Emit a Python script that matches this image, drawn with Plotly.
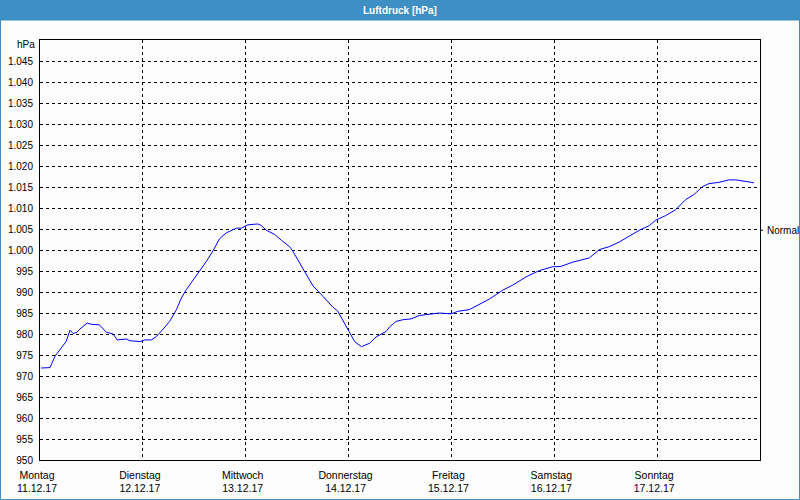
import plotly.graph_objects as go

# ---- data ----
times = [
    "2017-12-11 00:15", "2017-12-11 02:20", "2017-12-11 03:30", "2017-12-11 05:05", "2017-12-11 06:05",
    "2017-12-11 07:00", "2017-12-11 07:45", "2017-12-11 08:35", "2017-12-11 09:20", "2017-12-11 11:00",
    "2017-12-11 12:05", "2017-12-11 13:50", "2017-12-11 14:45", "2017-12-11 15:30", "2017-12-11 17:05",
    "2017-12-11 18:00", "2017-12-11 20:10", "2017-12-11 21:00", "2017-12-11 23:20", "2017-12-12 00:30",
    "2017-12-12 02:00", "2017-12-12 03:10", "2017-12-12 04:45", "2017-12-12 06:15", "2017-12-12 07:50",
    "2017-12-12 09:00", "2017-12-12 10:10", "2017-12-12 13:15", "2017-12-12 14:50", "2017-12-12 16:25",
    "2017-12-12 17:55", "2017-12-12 19:30", "2017-12-12 21:00", "2017-12-12 21:50", "2017-12-12 23:00",
    "2017-12-13 00:30", "2017-12-13 02:50", "2017-12-13 03:40", "2017-12-13 04:50", "2017-12-13 06:45",
    "2017-12-13 08:20", "2017-12-13 10:15", "2017-12-13 11:00", "2017-12-13 12:35", "2017-12-13 14:10",
    "2017-12-13 15:40", "2017-12-13 18:00", "2017-12-13 20:20", "2017-12-13 21:30", "2017-12-13 23:05",
    "2017-12-14 00:15", "2017-12-14 01:25", "2017-12-14 03:00", "2017-12-14 04:55", "2017-12-14 06:25",
    "2017-12-14 08:45", "2017-12-14 09:35", "2017-12-14 11:05", "2017-12-14 12:40", "2017-12-14 14:35",
    "2017-12-14 16:30", "2017-12-14 18:50", "2017-12-14 21:10", "2017-12-14 23:55", "2017-12-15 01:30",
    "2017-12-15 04:10", "2017-12-15 06:30", "2017-12-15 08:50", "2017-12-15 11:55", "2017-12-15 14:15",
    "2017-12-15 17:25", "2017-12-15 20:30", "2017-12-15 23:35", "2017-12-16 01:35", "2017-12-16 04:15",
    "2017-12-16 05:50", "2017-12-16 08:10", "2017-12-16 10:30", "2017-12-16 12:50", "2017-12-16 15:10",
    "2017-12-16 17:30", "2017-12-16 19:50", "2017-12-16 22:10", "2017-12-16 23:40", "2017-12-17 02:00",
    "2017-12-17 04:20", "2017-12-17 06:40", "2017-12-17 08:35", "2017-12-17 10:35", "2017-12-17 12:05",
    "2017-12-17 14:25", "2017-12-17 16:45", "2017-12-17 18:20", "2017-12-17 20:40", "2017-12-17 21:25",
    "2017-12-17 22:35",
]
pressure = [
    971.9, 972.0, 974.7, 976.9, 978.2,
    980.9, 980.1, 980.4, 981.2, 982.6,
    982.3, 982.2, 981.2, 980.4, 980.0,
    978.6, 978.8, 978.4, 978.2, 978.6,
    978.6, 979.4, 981.2, 983.0, 985.8,
    988.6, 990.6, 994.9, 997.3, 999.9,
    1002.7, 1004.1, 1004.9, 1005.2, 1005.2,
    1006.0, 1006.2, 1005.8, 1004.7, 1003.7,
    1002.3, 1000.8, 999.7, 996.9, 994.2,
    991.5, 989.0, 986.4, 985.4, 982.6,
    980.2, 978.2, 977.0, 977.8, 979.3,
    980.6, 981.7, 983.0, 983.4, 983.6,
    984.4, 984.7, 985.0, 984.8, 985.4,
    985.8, 987.0, 988.3, 990.4, 991.6,
    993.6, 995.1, 996.0, 996.1, 997.1,
    997.5, 998.1, 1000.1, 1000.8, 1001.9,
    1003.3, 1004.7, 1005.8, 1007.1, 1008.2,
    1009.6, 1012.0, 1013.2, 1015.1, 1015.8,
    1016.1, 1016.7, 1016.7, 1016.2, 1016.2,
    1016.0,
]
day_ticks = ["2017-12-11", "2017-12-12", "2017-12-13", "2017-12-14",
             "2017-12-15", "2017-12-16", "2017-12-17"]
day_names = ["Montag", "Dienstag", "Mittwoch", "Donnerstag", "Freitag", "Samstag", "Sonntag"]
day_dates = ["11.12.17", "12.12.17", "13.12.17", "14.12.17", "15.12.17", "16.12.17", "17.12.17"]
x_range = ["2017-12-11", "2017-12-18"]
y_range = [950, 1050]
y_ticks = list(range(950, 1050, 5))
normal_value = 1004.7
title_text = "Luftdruck [hPa]"
unit_text = "hPa"

BLUE_BAR = "#3d8fc4"
FONT = "Liberation Sans"

fig = go.Figure()
fig.add_trace(go.Scatter(x=times, y=pressure, mode="lines",
                         line=dict(color="#0000ff", width=1), hoverinfo="skip"))

W, H = 800, 500
L, R, T, B = 40, 40, 40, 40
pw, ph = W - L - R, H - T - B


def px_x(p):
    return (p - L) / pw


def px_y(p):
    return (H - B - p) / ph


shapes = [
    # title bar
    dict(type="rect", xref="paper", yref="paper", x0=px_x(0), x1=px_x(800),
         y0=px_y(20), y1=px_y(0), fillcolor=BLUE_BAR, line=dict(width=0), layer="below"),
    # outer border
    dict(type="rect", xref="paper", yref="paper", x0=px_x(0.5), x1=px_x(799.5),
         y0=px_y(499.5), y1=px_y(20), line=dict(color=BLUE_BAR, width=1), fillcolor="rgba(0,0,0,0)"),
    # Normal tick on right
    dict(type="line", xref="paper", yref="y", x0=1, x1=px_x(763), y0=normal_value, y1=normal_value,
         line=dict(color="black", width=1)),
]

annotations = [
    dict(text=f"<b>{title_text}</b>", xref="paper", yref="paper", x=px_x(400), y=px_y(10),
         showarrow=False, font=dict(family=FONT, size=10, color="white"), xanchor="center", yanchor="middle"),
    dict(text=unit_text, xref="paper", yref="paper", x=px_x(37), y=px_y(45),
         showarrow=False, font=dict(family=FONT, size=10, color="black"), xanchor="right", yanchor="middle"),
    dict(text="Normal", xref="paper", yref="y", x=px_x(765), y=normal_value,
         showarrow=False, font=dict(family=FONT, size=10, color="black"), xanchor="left", yanchor="middle"),
]

fig.update_layout(
    width=W, height=H,
    margin=dict(l=L, r=R, t=T, b=B, pad=0, autoexpand=False),
    paper_bgcolor="#fcfdfc", plot_bgcolor="#fcfdfc",
    showlegend=False,
    separators=",.",
    shapes=shapes, annotations=annotations,
    font=dict(family=FONT, size=10, color="black"),
)
fig.update_xaxes(
    type="date", range=x_range, automargin=False,
    tickvals=day_ticks,
    ticktext=[f"{n}<br>{d}" for n, d in zip(day_names, day_dates)],
    showgrid=True, gridcolor="black", gridwidth=1, griddash="3px,3px",
    showline=True, linecolor="black", linewidth=1, mirror=True,
    ticks="", zeroline=False, ticklabelshift=-3, ticklabelstandoff=5,
    tickfont=dict(family=FONT, size=10.5, color="black"),
)
fig.update_yaxes(
    range=y_range, tickvals=y_ticks, separatethousands=True, automargin=False,
    showgrid=True, gridcolor="black", gridwidth=1, griddash="3px,3px",
    showline=True, linecolor="black", linewidth=1, mirror=True,
    ticks="", zeroline=False, ticklabelstandoff=4,
    tickfont=dict(family=FONT, size=10, color="black"),
)

fig.write_html("out.html")
